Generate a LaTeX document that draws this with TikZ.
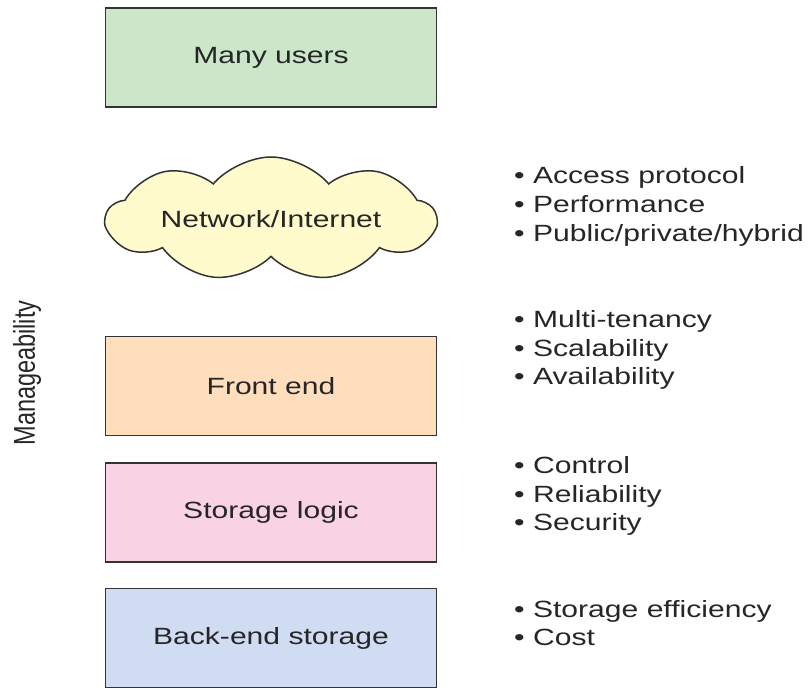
\documentclass[tikz,border=0pt]{standalone}
\usepackage{fontspec}
\usepackage{graphicx}
\setmainfont{Liberation Sans}[FakeStretch=1.28]
\newfontfamily\plainsans{Liberation Sans}
\usetikzlibrary{shapes.symbols}

\definecolor{usersgreen}{HTML}{CCE6C9}
\definecolor{netyellow}{HTML}{FFFBCC}
\definecolor{frontpeach}{HTML}{FFDEBD}
\definecolor{logicpink}{HTML}{F9D2E4}
\definecolor{backblue}{HTML}{CFDCF2}

\begin{document}
\begin{tikzpicture}[x=1pt,y=-1pt,
		every node/.style={font=\fontsize{23.5}{28.7}\selectfont, text=black!85},
		layer/.style={draw=black!80, line width=1.5pt, minimum width=331pt, minimum height=99pt, inner sep=0pt},
		notes/.style={anchor=west, align=left, inner sep=0pt}]
		\useasboundingbox (0,0) rectangle (812,690);
		
		% layers
		\node[layer, fill=usersgreen] (users) at (271,57.5) {Many users};
		\node[cloud, cloud puffs=9, cloud puff arc=100, cloud ignores aspect, draw=black!80, line width=1.5pt,
		fill=netyellow, minimum width=329pt, minimum height=124pt, inner sep=0pt,
		label={[name=nettext]center:Network/Internet}] (net) at (271,219) {};
		\node[layer, fill=frontpeach] (front) at (271,386) {Front end};
		\node[layer, fill=logicpink] (logic) at (271,512.5) {Storage logic};
		\node[layer, fill=backblue] (back) at (271,638) {Back-end storage};
		
		% side label
		\node[rotate=90] (manage) at (27,373) {\plainsans\scalebox{1}[1.28]{Manageability}};
		
		% bullet lists
		\node[notes] (netnotes) at (514,206.5) {\textbullet\ Access protocol\\\textbullet\ Performance\\\textbullet\ Public/private/hybrid};
		\node[notes] (frontnotes) at (514,350) {\textbullet\ Multi-tenancy\\\textbullet\ Scalability\\\textbullet\ Availability};
		\node[notes] (logicnotes) at (514,496) {\textbullet\ Control\\\textbullet\ Reliability\\\textbullet\ Security};
		\node[notes] (backnotes) at (514,623) {\textbullet\ Storage efficiency\\\textbullet\ Cost};
	\end{tikzpicture}
\end{document}
